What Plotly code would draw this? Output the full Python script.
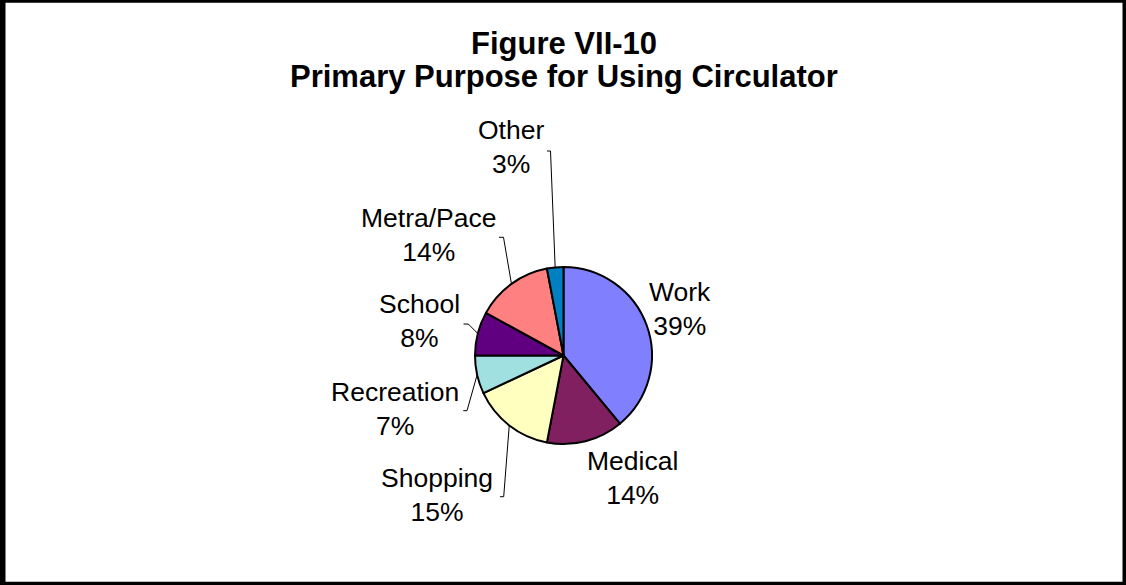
import math
import plotly.graph_objects as go

# ---- data ----
categories = ["Work", "Medical", "Shopping", "Recreation", "School", "Metra/Pace", "Other"]
shares = [39, 14, 15, 7, 8, 14, 3]
title_lines = ["Figure VII-10", "Primary Purpose for Using Circulator"]

# ---- style ----
W, H = 1126, 585
colors = ["#8080FF", "#802060", "#FFFFC0", "#A0E0E0", "#600080", "#FF8080", "#0080C0"]
CX, CY, R = 563.5, 355.5, 88.5          # pie centre / radius in pixels
FONT = "Liberation Sans, Arial, sans-serif"
LABEL_SIZE = 26.5
# label block centres (pixels)
label_pos = {
    "Work": (680, 309), "Medical": (632, 478), "Shopping": (437, 495),
    "Recreation": (395, 409), "School": (419, 321), "Metra/Pace": (429, 235),
    "Other": (511, 147),
}
# leader line elbow + tick end (pixels)
leaders = {
    "Other": ((550.5, 151), (547, 151)),
    "Metra/Pace": ((503.5, 237.3), (499, 237.3)),
    "School": ((468.3, 324), (463.5, 324)),
    "Recreation": ((467, 410.7), (463.3, 410.7)),
    "Shopping": ((503.7, 496.7), (500, 496.7)),
}
title_y = [43, 76]

fig = go.Figure()
fig.add_trace(go.Pie(
    labels=categories, values=shares, sort=False, direction="clockwise", rotation=0,
    marker=dict(colors=colors, line=dict(color="black", width=2)),
    textinfo="none", hoverinfo="label+percent", showlegend=False,
    domain=dict(x=[(CX - R) / W, (CX + R) / W], y=[(H - CY - R) / H, (H - CY + R) / H]),
))

# leader lines computed from slice mid-angles
total = sum(shares)
cum = 0
lx, ly = [], []
for cat, v in zip(categories, shares):
    mid = (cum + v / 2) / total * 2 * math.pi
    cum += v
    if cat in leaders:
        sx, sy = CX + R * math.sin(mid), CY - R * math.cos(mid)
        (ex, ey), (tx, ty) = leaders[cat]
        lx += [sx, ex, tx, None]
        ly += [sy, ey, ty, None]
fig.add_trace(go.Scatter(x=lx, y=ly, mode="lines", line=dict(color="black", width=1),
                         hoverinfo="skip", showlegend=False))

for cat, v in zip(categories, shares):
    x, y = label_pos[cat]
    fig.add_annotation(x=x, y=y, xref="x", yref="y", text=f"{cat}<br>{v}%", showarrow=False,
                       font=dict(family=FONT, size=LABEL_SIZE, color="black"),
                       xanchor="center", yanchor="middle", align="center")

for t, y in zip(title_lines, title_y):
    fig.add_annotation(x=564, y=y, xref="x", yref="y", text=f"<b>{t}</b>", showarrow=False,
                       font=dict(family=FONT, size=31, color="black"),
                       xanchor="center", yanchor="middle", align="center")

# frame
for x0, x1, y0, y1 in [(0, 5.5, 0, H), (0, W, 0, 2.7), (W - 3.5, W, 0, H), (0, W, H - 3.3, H)]:
    fig.add_shape(type="rect", xref="x", yref="y", x0=x0, x1=x1, y0=y0, y1=y1,
                  fillcolor="black", line=dict(width=0), layer="above")

fig.update_layout(
    width=W, height=H, autosize=False,
    margin=dict(l=0, r=0, t=0, b=0),
    paper_bgcolor="white", plot_bgcolor="rgba(0,0,0,0)",
    xaxis=dict(range=[0, W], visible=False, fixedrange=True),
    yaxis=dict(range=[H, 0], visible=False, fixedrange=True),
)
fig.write_html("out.html", config={"displayModeBar": False},
               post_script="document.body.style.margin='0';document.body.style.overflow='hidden';")
